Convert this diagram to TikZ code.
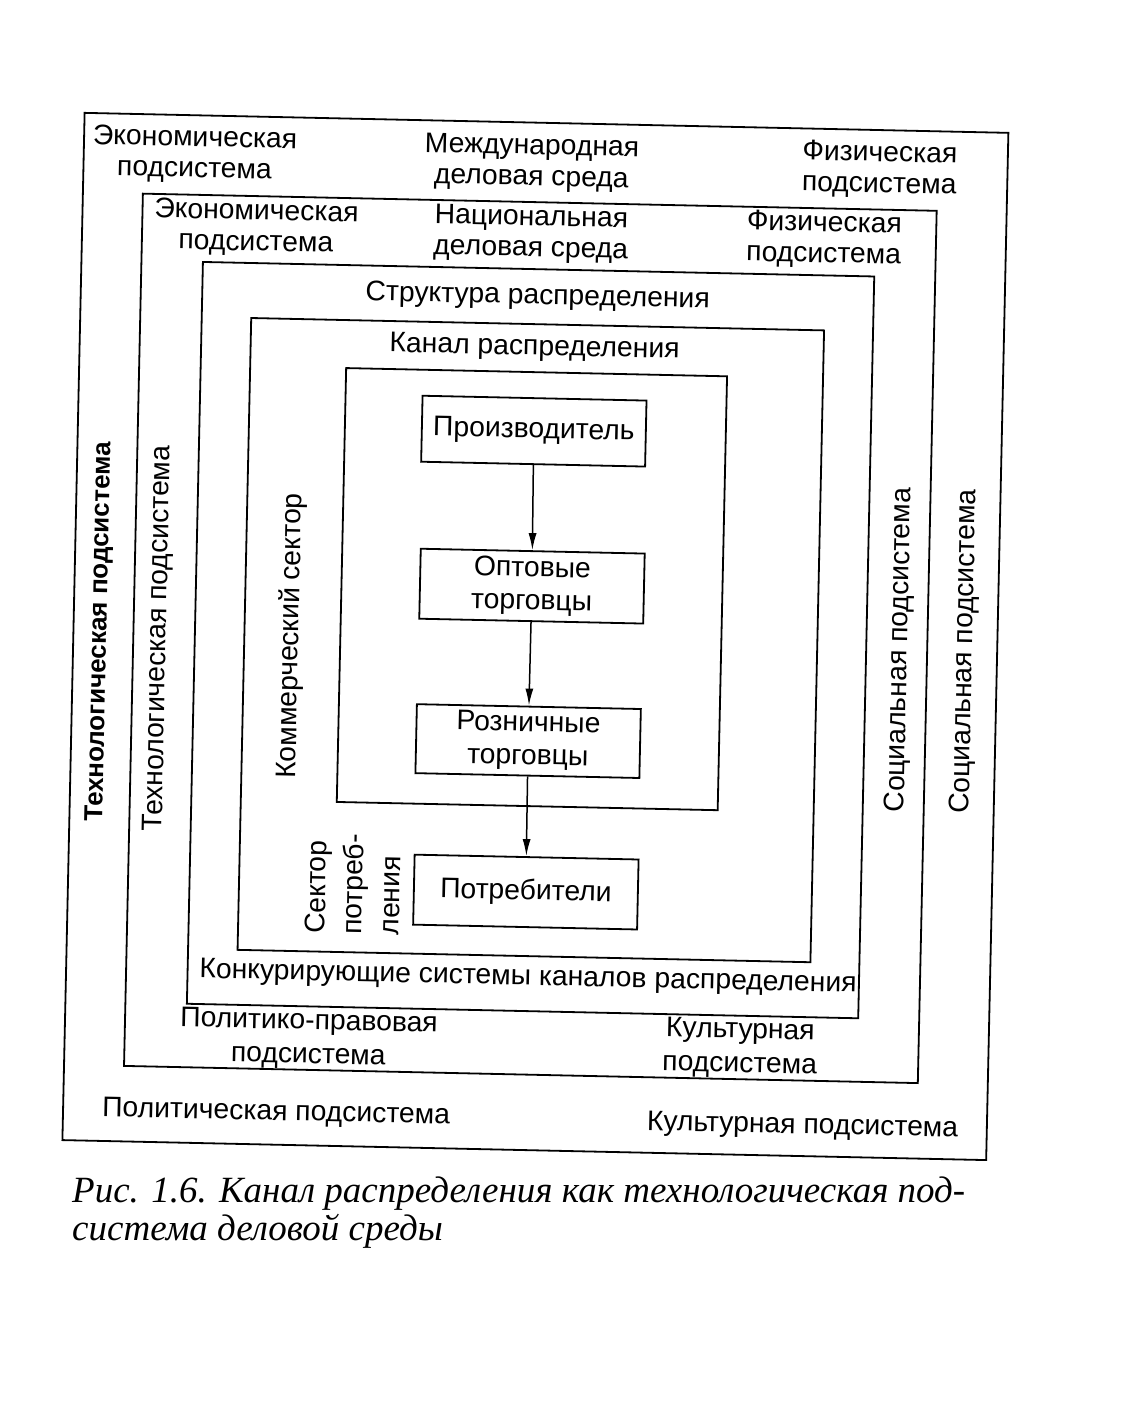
\documentclass[tikz,border=0pt]{standalone}
\usepackage{fontspec}
\setmainfont{Liberation Sans}
\newfontfamily\capfont{Liberation Serif}
\usetikzlibrary{arrows.meta}
\begin{document}
\begin{tikzpicture}[x=1pt,y=-1pt,
  frame/.style={draw, line width=1.8pt},
  lbl/.style={font=\fontsize{28.3}{31}\selectfont, align=center, inner sep=0pt},
  vlbl/.style={lbl, rotate=90},
  vbold/.style={font=\bfseries\fontsize{26}{30}\selectfont, inner sep=0pt, rotate=90},
  box/.style={draw, line width=1.8pt, minimum width=224pt, minimum height=68pt,
    align=center, font=\fontsize{28.3}{33}\selectfont, inner sep=2pt},
  flow/.style={line width=1.5pt, -{Latex[length=17pt,width=8pt]}}
]
\useasboundingbox[fill=white] (0,0) rectangle (1142,1402);
\begin{scope}[rotate around={-1.24:(571,701)}, transform shape]
  % frames
  \draw[frame] (72,123.5) rectangle (996,1151);
  \draw[frame] (132,203) rectangle (926,1075.5);
  \draw[frame] (193.5,270) rectangle (865,1012);
  \draw[frame] (243,325) rectangle (816,957);
  \draw[frame] (339,373) rectangle (720,807);
  % chain
  \node[box, minimum height=66pt] (prod) at (528,432) {Производитель};
  \node[box, minimum height=70pt] (opt)  at (529.5,587) {Оптовые\\торговцы};
  \node[box, minimum height=69pt] (rozn) at (529,742) {Розничные\\торговцы};
  \node[box, minimum height=70pt] (potr) at (530,893) {Потребители};
  \draw[flow] (prod) -- (opt);
  \draw[flow] (opt) -- (rozn);
  \draw[flow] (rozn) -- (potr);
  % top labels
  \node[lbl] (econ1) at (183,163) {Экономическая\\подсистема};
  \node[lbl] (mezh)  at (520,164) {Международная\\деловая среда};
  \node[lbl] (fiz1)  at (868,163.5) {Физическая\\подсистема};
  \node[lbl] (econ2) at (246,235) {Экономическая\\подсистема};
  \node[lbl] (nac)   at (521,235) {Национальная\\деловая среда};
  \node[lbl] (fiz2)  at (814,234.5) {Физическая\\подсистема};
  \node[lbl] (strukt) at (529,298) {Структура распределения};
  \node[lbl] (kanal)  at (527,349) {Канал распределения};
  % bottom labels
  \node[lbl] (konk) at (534,979) {Конкурирующие системы каналов распределения};
  \node[lbl, font=\fontsize{28.3}{34}\selectfont] (polpr) at (316,1045) {Политико-правовая\\подсистема};
  \node[lbl, font=\fontsize{28.3}{34}\selectfont] (kult2) at (747.5,1044.5) {Культурная\\подсистема};
  \node[lbl, anchor=west] (polit) at (111,1119.5) {Политическая подсистема};
  \node[lbl] (kult1) at (811.7,1121.6) {Культурная подсистема};
  % vertical labels
  \node[vbold] (tech1) at (98.5,642) {Технологическая подсистема};
  \node[vlbl] (tech2) at (157.7,647.4) {Технологическая подсистема};
  \node[vlbl] (komm) at (289.6,642) {Коммерческий сектор};
  \node[vlbl] (soc2) at (899,643) {Социальная подсистема};
  \node[vlbl] (soc1) at (964,643) {Социальная подсистема};
  \node[vlbl, align=left, font=\fontsize{28.3}{37}\selectfont] (sekt) at (357,889) {Сектор\\потреб-\\ления};
\end{scope}
\node[anchor=base west, align=left, inner sep=0pt,
      font=\capfont\itshape\fontsize{37}{38}\selectfont] (cap) at (72,1240)
  {Рис. 1.6. Канал распределения как технологическая под-\\система деловой среды};
\end{tikzpicture}
\end{document}
